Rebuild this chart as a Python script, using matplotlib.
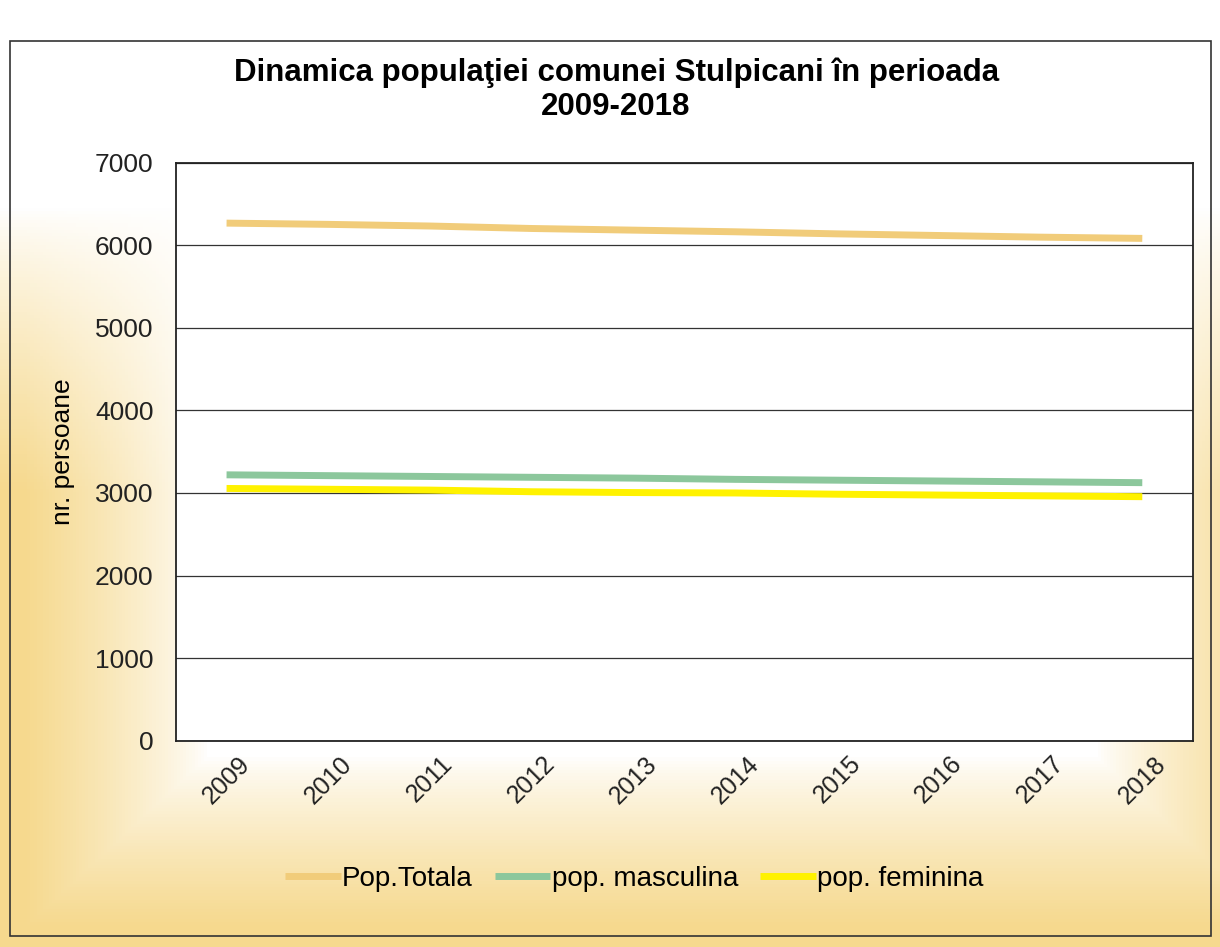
import numpy as np
import matplotlib
matplotlib.use("Agg")
import matplotlib.pyplot as plt
from matplotlib.colors import to_rgb
from matplotlib.patches import Rectangle

plt.rcParams['font.family'] = ['Liberation Sans', 'DejaVu Sans']

years = ['2009', '2010', '2011', '2012', '2013', '2014', '2015', '2016', '2017', '2018']
pop_totala = [6270, 6255, 6235, 6205, 6185, 6165, 6140, 6120, 6100, 6085]
pop_masculina = [3220, 3210, 3200, 3190, 3180, 3165, 3155, 3145, 3135, 3125]
pop_feminina = [3055, 3045, 3035, 3015, 3005, 3000, 2985, 2975, 2965, 2955]

fig = plt.figure(figsize=(12.2, 9.47), dpi=100)

# background gradient (white centre, yellow towards left/bottom/right edges)
bg = fig.add_axes([0, 0, 1, 1], zorder=-10)
h, w = 300, 400
yy, xx = np.mgrid[0:h, 0:w]
u = xx / (w - 1)
v = yy / (h - 1)  # 0 = top
dx = np.clip(np.maximum(0.17 - u, u - 0.9) / 0.15, 0, 1)
dy = np.clip((v - 0.8) / 0.18, 0, 1)
t = np.maximum(dx, dy) * np.clip((v - 0.22) / 0.3, 0, 1)
t = np.clip(t, 0, 1) ** 0.8
white = np.array(to_rgb('#ffffff'))
yellow = np.array(to_rgb('#f6d98e'))
img = white[None, None, :] * (1 - t[..., None]) + yellow[None, None, :] * t[..., None]
bg.imshow(img, aspect='auto', extent=[0, 1, 0, 1], origin='upper')
bg.set_xlim(0, 1)
bg.set_ylim(0, 1)
bg.axis('off')

# chart border
fig.patches.append(Rectangle((0.008, 0.012), 0.985, 0.945, transform=fig.transFigure,
                             fill=False, edgecolor='#333333', linewidth=1.2))

ax = fig.add_axes([0.144, 0.218, 0.834, 0.61])
ax.set_facecolor('white')
x = np.arange(len(years))
ax.plot(x, pop_totala, color='#f1cc7a', linewidth=5, label='Pop.Totala', solid_capstyle='butt')
ax.plot(x, pop_masculina, color='#8cc79c', linewidth=5, label='pop. masculina', solid_capstyle='butt')
ax.plot(x, pop_feminina, color='#fff200', linewidth=5, label='pop. feminina', solid_capstyle='butt')

ax.set_xlim(-0.5, len(years) - 0.5)
ax.set_ylim(0, 7000)
ax.set_yticks(range(0, 7001, 1000))
ax.set_xticks(x)
ax.set_xticklabels(years, rotation=45, ha='center')
ax.tick_params(axis='y', labelsize=19, length=0, pad=16, colors='#222222')
ax.tick_params(axis='x', labelsize=18, length=0, pad=8, colors='#222222')
ax.grid(axis='y', color='#333333', linewidth=0.9)
ax.set_axisbelow(True)
for s in ax.spines.values():
    s.set_color('#222222')
    s.set_linewidth(1.3)

ax.set_ylabel('nr. persoane', fontsize=19, labelpad=14)

fig.text(0.505, 0.905, 'Dinamica populaţiei comunei Stulpicani în perioada\n2009-2018',
         ha='center', va='center', fontsize=22.5, fontweight='bold', linespacing=1.15)

fig.legend(loc='center', bbox_to_anchor=(0.52, 0.072), ncol=3, frameon=False,
           fontsize=20, handlelength=2.0, columnspacing=0.8, handletextpad=0.05)

fig.savefig('out.png', dpi=100)
